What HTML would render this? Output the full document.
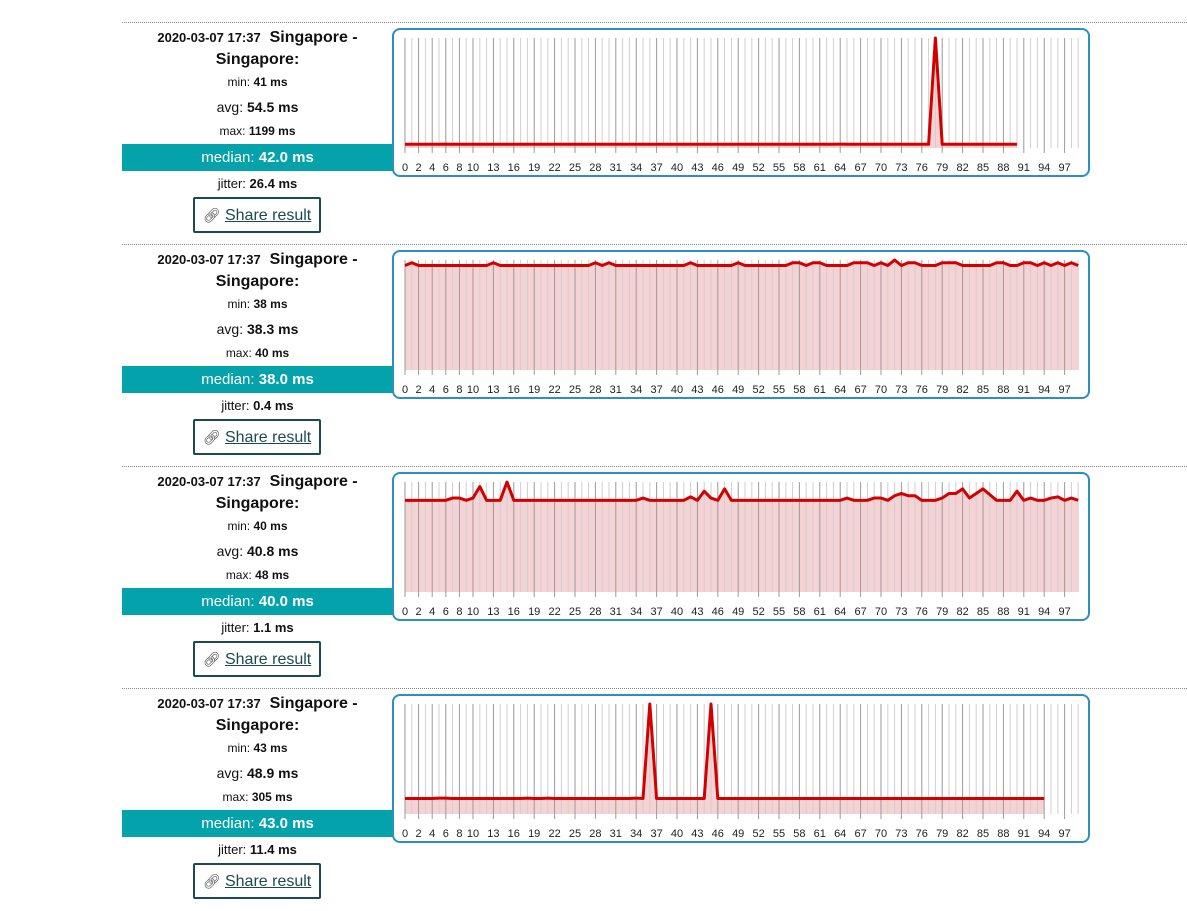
<!DOCTYPE html>
<html><head><meta charset="utf-8"><style>
body{margin:0;background:#fff;width:1187px;height:899px;overflow:hidden;font-family:"Liberation Sans",sans-serif;color:#111;}
.sec{position:absolute;left:122px;width:1065px;height:222px;border-top:1px dotted #888;}
.t{position:absolute;width:271px;text-align:center;left:0;white-space:nowrap}
.bar{position:absolute;left:0;width:271px;height:27px;background:#04a2ab;color:#fff;font-size:15px;line-height:27px;text-align:center}
.btn{position:absolute;left:71px;width:124px;height:32px;border:2px solid #1b4a4f;border-radius:2px;font-size:16px;line-height:32px;text-align:center;color:#1b4a4f}
.btn u{text-decoration:underline}
svg{position:absolute;left:270px;}
</style></head><body>
<div id="root"></div>
<script>
const secs=[
 {top:22,min:41,avg:"54.5",max:1199,med:"42.0",jit:"26.4",ymax:1199,n:91,spec:{6:42.5,64:42,65:41.5,67:41.5,78:1199}},
 {top:244,min:38,avg:"38.3",max:40,med:"38.0",jit:"0.4",ymax:40,n:100,spec:{1:39,13:39,28:39,30:39,42:39,49:39,57:39,58:39,60:39,61:39,66:39,67:39,68:39,70:39,72:40,74:39,75:39,79:39,80:39,81:39,87:39,88:39,91:39,92:39,94:39,96:39,98:39}},
 {top:466,min:40,avg:"40.8",max:48,med:"40.0",jit:"1.1",ymax:48,n:100,spec:{7:41,8:41,10:41,11:46,15:48,35:41,42:41.5,44:44,45:41,47:45,65:41,69:41,70:41,72:42,73:43,74:42,75:42,79:41,80:43,81:43,82:45,83:41,84:43,85:45,86:42.5,90:44,92:41,95:41,96:41.5,98:41}},
 {top:688,min:43,avg:"48.9",max:305,med:"43.0",jit:"11.4",ymax:305,n:95,spec:{5:44,6:44,18:44,21:44,34:44,36:305,45:305}}
];
let h='';
const labels=[0,2,4,6,8,10];for(let i=13;i<=97;i+=3)labels.push(i);
secs.forEach(s=>{
 const base=s.min;
 let g='';
 const x0=12,dx=6.8,pt=9,pb=119;
 const bx=1,by=6;
 g+=`<rect x="1" y="${by}" width="696" height="147" rx="7" fill="#fff" stroke="#2a8fc1" stroke-width="2"/>`;
 const X=i=>bx+x0+i*dx, Y=v=>by+pb-v/s.ymax*(pb-pt);
 let pts=[];for(let i=0;i<s.n;i++){pts.push([X(i),Y(s.spec[i]!==undefined?s.spec[i]:base)]);}
 g+=`<polygon points="${X(0)},${by+pb} ${pts.map(p=>p.join(',')).join(' ')} ${X(s.n-1)},${by+pb}" fill="#f5d3d5"/>`;
 for(let i=0;i<100;i++){const lab=labels.includes(i);g+=`<line x1="${X(i)}" x2="${X(i)}" y1="${by+pt}" y2="${by+pb+(lab?5:0)}" stroke="${lab?'#9a9a9a':'#cfcfcf'}" stroke-width="1"/>`;}
 labels.forEach(l=>{g+=`<text x="${X(l)}" y="${by+142}" font-size="11" text-anchor="middle" fill="#222">${l}</text>`});
 g+=`<polyline points="${pts.map(p=>p.join(',')).join(' ')}" fill="none" stroke="#d40000" stroke-width="3" stroke-linejoin="round"/>`;
 h+=`<div class="sec" style="top:${s.top}px">
 <div class="t" style="top:6px;font-size:16px;font-weight:bold"><span style="font-size:13px">2020-03-07 17:37</span>&nbsp; Singapore -</div>
 <div class="t" style="top:28px;font-size:16px;font-weight:bold">Singapore:</div>
 <div class="t" style="top:52px;font-size:12px">min: <b>${s.min} ms</b></div>
 <div class="t" style="top:76px;font-size:14px">avg: <b>${s.avg} ms</b></div>
 <div class="t" style="top:101px;font-size:12px">max: <b>${s.max} ms</b></div>
 <div class="bar" style="top:121px">median: <b>${s.med} ms</b></div>
 <div class="t" style="top:153px;font-size:13px">jitter: <b>${s.jit} ms</b></div>
 <div class="btn" style="top:174px"><span style="font-size:14px;color:#444">&#128279;&#xFE0E;</span> <u>Share result</u></div>
 <svg width="700" height="160" style="top:0">${g}</svg></div>`;
});
document.getElementById('root').innerHTML=h;
</script>
</body></html>
